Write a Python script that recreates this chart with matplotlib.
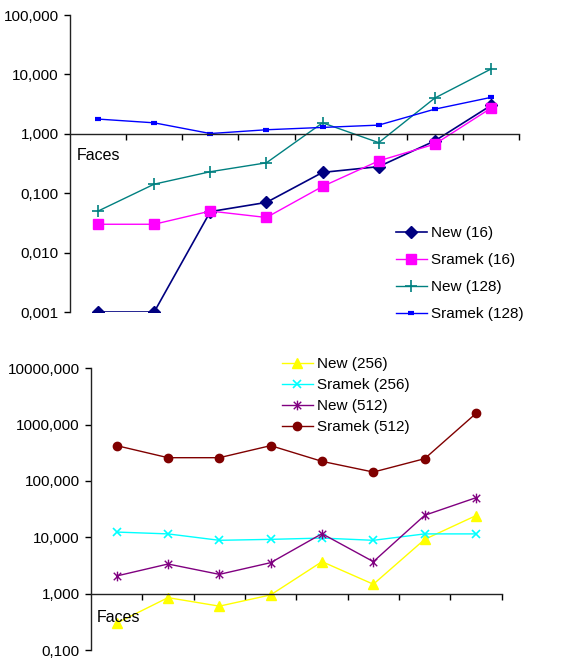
import matplotlib.pyplot as plt
from matplotlib.path import Path
from matplotlib.ticker import FixedLocator, FuncFormatter, NullLocator

plt.rcParams['font.family'] = ['Liberation Sans', 'DejaVu Sans']
plt.rcParams['font.size'] = 11

# category positions (8 mesh sizes, no labels shown)
cats = list(range(8))

# top chart: 16 and 128
new_16 = [0.001, 0.001, 0.049, 0.07, 0.224, 0.28, 0.76, 3.0]
sramek_16 = [0.03, 0.03, 0.05, 0.039, 0.13, 0.35, 0.67, 2.7]
new_128 = [0.05, 0.142, 0.23, 0.325, 1.53, 0.71, 4.0, 12.3]
sramek_128 = [1.77, 1.53, 1.01, 1.17, 1.28, 1.40, 2.6, 4.1]

# bottom chart: 256 and 512
new_256 = [0.30, 0.85, 0.60, 0.95, 3.7, 1.47, 9.2, 24.3]
sramek_256 = [12.4, 11.5, 8.85, 9.2, 9.7, 8.85, 11.5, 11.5]
new_512 = [2.06, 3.36, 2.2, 3.55, 11.6, 3.7, 24.6, 50.5]
sramek_512 = [424, 259, 259, 424, 223, 144, 249, 1585]

top_ticks = [0.001, 0.01, 0.1, 1, 10, 100]
bottom_ticks = [0.1, 1, 10, 100, 1000, 10000]

# excel style star: x plus vertical bar
star = Path([(-1, -1), (1, 1), (-1, 1), (1, -1), (0, -1.3), (0, 1.3)],
            [Path.MOVETO, Path.LINETO, Path.MOVETO, Path.LINETO, Path.MOVETO, Path.LINETO])


def style_axis(ax, ticks):
    ax.set_yscale('log')
    ax.set_ylim(ticks[0], ticks[-1])
    ax.set_xlim(-0.5, 7.5)
    ax.yaxis.set_major_locator(FixedLocator(ticks))
    ax.yaxis.set_minor_locator(NullLocator())
    ax.yaxis.set_major_formatter(FuncFormatter(lambda v, p: f"{v:.3f}".replace('.', ',')))
    ax.set_xticks([c + 0.5 for c in cats])
    ax.set_xticklabels([])
    ax.xaxis.set_minor_locator(NullLocator())
    ax.spines['top'].set_visible(False)
    ax.spines['right'].set_visible(False)
    ax.spines['bottom'].set_position(('data', 1))
    ax.tick_params(axis='both', direction='out', length=4, width=1, labelsize=11)
    ax.tick_params(axis='y', pad=4)
    for s in ('left', 'bottom'):
        ax.spines[s].set_linewidth(1)
        ax.spines[s].set_color('#222222')
    ax.patch.set_alpha(0)


fig = plt.figure(figsize=(5.66, 6.62), dpi=100)

ax1 = fig.add_axes([70 / 566, 1 - 312 / 662, 449 / 566, 297 / 662])
ax1.plot(cats, new_16, color='#000080', lw=1.2, marker='D', ms=6, label='New (16)')
ax1.plot(cats, sramek_16, color='#FF00FF', lw=1.0, marker='s', ms=6.5, label='Sramek (16)')
ax1.plot(cats, new_128, color='#008080', lw=1.0, marker='+', ms=8, mew=1.2, label='New (128)')
ax1.plot(cats, sramek_128, color='#0000FF', lw=1.0, marker='_', ms=5, mew=3, label='Sramek (128)')
style_axis(ax1, top_ticks)
ax1.legend(loc='upper left', bbox_to_anchor=(396 / 566, 1 - 226 / 662), bbox_transform=fig.transFigure,
           frameon=False, handlelength=2.0, handletextpad=0.3, labelspacing=0.85, borderpad=0, borderaxespad=0)
fig.text(77 / 566, 1 - 156 / 662, 'Faces', ha='left', va='center', fontsize=11.5)

ax2 = fig.add_axes([91 / 566, 1 - 650 / 662, 410.7 / 566, 281.7 / 662])
ax2.plot(cats, new_256, color='#FFFF00', lw=1.0, marker='^', ms=6.5, label='New (256)')
ax2.plot(cats, sramek_256, color='#00FFFF', lw=1.0, marker='x', ms=6, mew=1.2, label='Sramek (256)')
ax2.plot(cats, new_512, color='#800080', lw=1.0, marker=star, ms=7, mew=1.0, label='New (512)')
ax2.plot(cats, sramek_512, color='#800000', lw=1.0, marker='o', ms=6, label='Sramek (512)')
style_axis(ax2, bottom_ticks)
ax2.legend(loc='upper left', bbox_to_anchor=(282 / 566, 1 - 357 / 662), bbox_transform=fig.transFigure,
           frameon=False, handlelength=2.0, handletextpad=0.3, labelspacing=0.46, borderpad=0, borderaxespad=0)
fig.text(97 / 566, 1 - 618 / 662, 'Faces', ha='left', va='center', fontsize=11.5)

fig.savefig('out.png', dpi=100)
